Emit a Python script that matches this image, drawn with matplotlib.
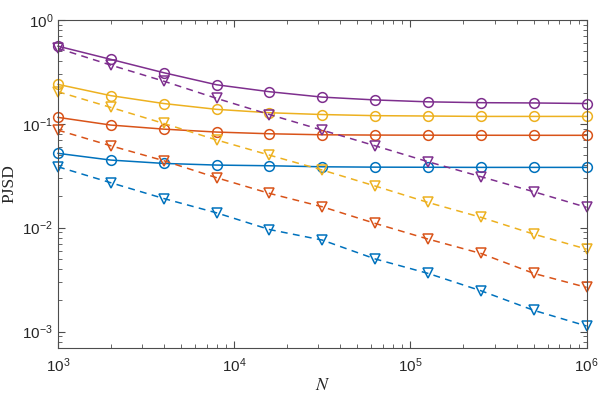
#!/usr/bin/env python3

import numpy as np
import matplotlib
matplotlib.use('Agg')
import matplotlib.pyplot as plt
from matplotlib.ticker import LogLocator, LogFormatterSciNotation, NullFormatter

plt.rcParams['font.family'] = ['Liberation Sans', 'DejaVu Sans']
plt.rcParams['mathtext.fontset'] = 'custom'
plt.rcParams['mathtext.rm'] = 'Liberation Sans'
plt.rcParams['mathtext.it'] = 'Liberation Sans:italic'

# sample sizes (logspace 1e3 .. 1e6, 11 points)
N = [1000, 1995, 3981, 7943, 15849, 31623, 63096, 125893, 251189, 501187, 1000000]

# solid lines, circle markers
blue_c = [0.052, 0.0448, 0.0416, 0.0401, 0.0395, 0.0386, 0.0383, 0.0382, 0.0381, 0.0381, 0.0381]
red_c = [0.1155, 0.0974, 0.089, 0.0834, 0.0803, 0.0785, 0.078, 0.0778, 0.0777, 0.0776, 0.0776]
yellow_c = [0.24, 0.187, 0.157, 0.138, 0.128, 0.123, 0.120, 0.119, 0.118, 0.118, 0.118]
purple_c = [0.56, 0.418, 0.311, 0.238, 0.204, 0.181, 0.170, 0.163, 0.160, 0.159, 0.157]

# dashed lines, triangle markers
blue_t = [0.0386, 0.0271, 0.0191, 0.0139, 0.0096, 0.0076, 0.0050, 0.00363, 0.00247, 0.0016, 0.00113]
red_t = [0.087, 0.0615, 0.0442, 0.0303, 0.0214, 0.0159, 0.011, 0.00777, 0.00565, 0.00363, 0.00266]
yellow_t = [0.204, 0.144, 0.101, 0.070, 0.050, 0.0359, 0.0252, 0.0175, 0.0126, 0.00867, 0.00622]
purple_t = [0.534, 0.368, 0.258, 0.176, 0.123, 0.087, 0.0615, 0.0432, 0.031, 0.0222, 0.0157]

colors = ['#0072BD', '#D95319', '#EDB120', '#7E2F8E']


def main():
    fig = plt.figure(figsize=(5.98, 3.93), dpi=100)
    ax = fig.add_axes([0.097, 0.1155, 0.884, 0.8335])

    circ = [blue_c, red_c, yellow_c, purple_c]
    tri = [blue_t, red_t, yellow_t, purple_t]
    for c, yc, yt in zip(colors, circ, tri):
        ax.plot(N, yc, '-', color=c, lw=1.1, marker='o', ms=7,
                mfc='none', mec=c, mew=1.1, clip_on=False)
        ax.plot(N, yt, '--', color=c, lw=1.1, marker='v', ms=7,
                mfc='none', mec=c, mew=1.1, dashes=(4.5, 3.5), clip_on=False)

    ax.set_xscale('log')
    ax.set_yscale('log')
    ax.set_xlim(1e3, 1e6)
    ax.set_ylim(7e-4, 1)

    ax.xaxis.set_major_locator(LogLocator(base=10, numticks=10))
    ax.yaxis.set_major_locator(LogLocator(base=10, numticks=10))
    ax.xaxis.set_minor_locator(LogLocator(base=10, subs=np.arange(2, 10), numticks=20))
    ax.yaxis.set_minor_locator(LogLocator(base=10, subs=np.arange(2, 10), numticks=20))
    ax.xaxis.set_major_formatter(LogFormatterSciNotation())
    ax.yaxis.set_major_formatter(LogFormatterSciNotation())
    ax.xaxis.set_minor_formatter(NullFormatter())
    ax.yaxis.set_minor_formatter(NullFormatter())

    axc = '#4d4d4d'
    for s in ax.spines.values():
        s.set_color(axc)
        s.set_linewidth(0.8)
    ax.tick_params(which='both', direction='in', top=True, right=True,
                   colors=axc, labelcolor='#262626', labelsize=11)
    ax.tick_params(axis='x', which='major', pad=6)
    ax.tick_params(which='major', length=5, width=0.8)
    ax.tick_params(which='minor', length=3, width=0.6)

    ax.set_xlabel('$N$', family='Liberation Serif', fontsize=13,
                  math_fontfamily='stix', color='#262626', labelpad=2)
    ax.set_ylabel('PJSD', family='Liberation Serif', fontsize=12.5,
                  color='#262626')
    ax.yaxis.set_label_coords(-0.077, 0.5)

    fig.savefig('out.png', dpi=100)


if __name__ == '__main__':
    main()
